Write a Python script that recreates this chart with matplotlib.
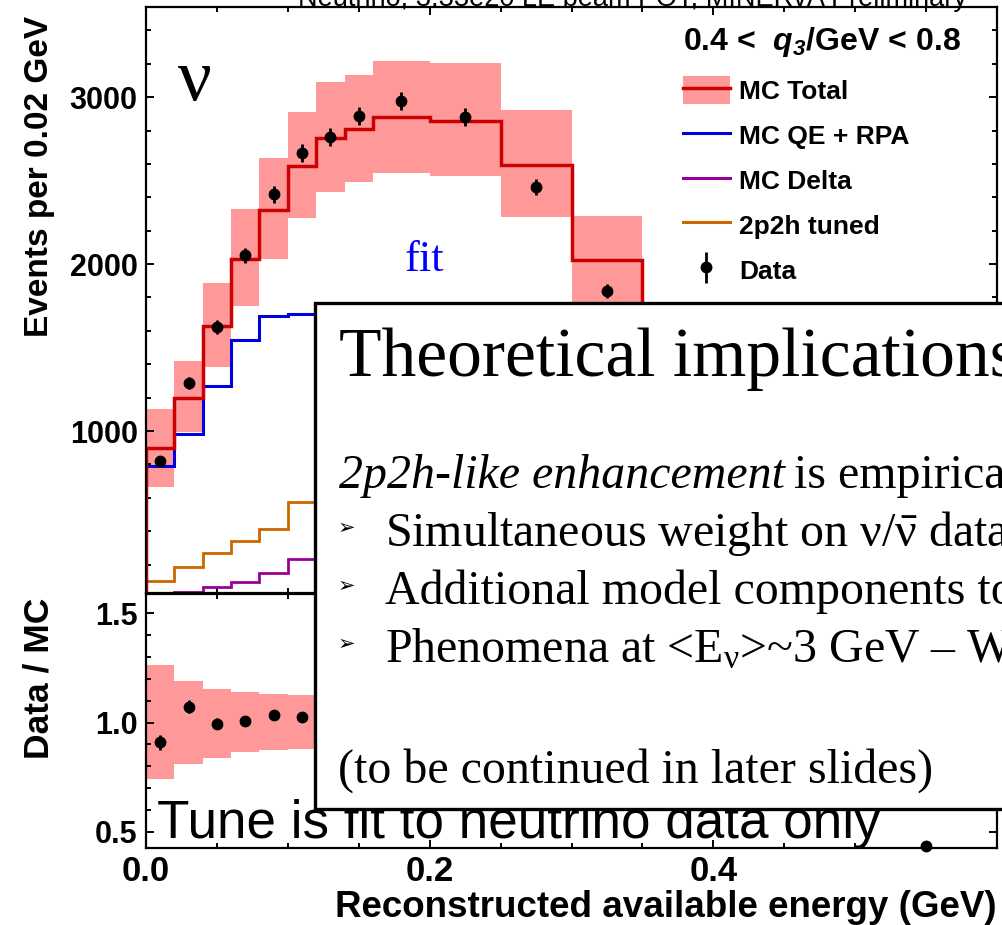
import matplotlib
matplotlib.use("Agg")
import matplotlib.pyplot as plt
from matplotlib import ticker as mticker
from matplotlib.patches import Patch, Rectangle
from matplotlib.lines import Line2D
from matplotlib.container import ErrorbarContainer
from matplotlib.legend_handler import HandlerErrorbar

W, H = 1002, 925

# histogram binning (GeV) for the visible part of the spectrum
edges = [0.0, 0.02, 0.04, 0.06, 0.08, 0.10, 0.12, 0.14, 0.16, 0.20, 0.25, 0.30, 0.35]
mc_total = [898, 1198, 1629, 2030, 2323, 2587, 2754, 2808, 2880, 2856, 2593, 2024]
mc_band_hi = [1132, 1419, 1886, 2329, 2635, 2910, 3090, 3132, 3216, 3204, 2922, 2287]
mc_band_lo = [665, 994, 1383, 1749, 2030, 2275, 2431, 2491, 2545, 2527, 2281, 1740]

# model components, first bins only
comp_edges = [0.0, 0.02, 0.04, 0.06, 0.08, 0.10, 0.12]
mc_qe_rpa = [790, 982, 1269, 1545, 1689, 1700]
mc_delta = [0, 35, 66, 96, 150, 234]
mc_2p2h = [102, 186, 269, 341, 413, 575]

data_x = [0.01, 0.03, 0.05, 0.07, 0.09, 0.11, 0.13, 0.15, 0.18, 0.225, 0.275, 0.325]
data_y = [820, 1287, 1623, 2054, 2419, 2665, 2760, 2886, 2976, 2880, 2461, 1838]
data_err = [28, 35, 40, 45, 50, 52, 53, 55, 55, 54, 50, 43]

ratio_band_hi = [1.264, 1.19, 1.155, 1.14, 1.13, 1.127]
ratio_band_lo = [0.74, 0.81, 0.84, 0.864, 0.873, 0.88]
ratio_x = [0.01, 0.03, 0.05, 0.07, 0.09, 0.11, 0.55]
ratio_y = [0.91, 1.073, 0.995, 1.005, 1.036, 1.027, 0.435]
ratio_err = [0.035, 0.03, 0.025, 0.022, 0.022, 0.02, 0.0]

RED = "#cc0000"
BAND = "#ff9999"
BLUE = "#0000dd"
PURPLE = "#990099"
ORANGE = "#cc6600"

plt.rcParams.update({
    "font.family": ["Liberation Sans", "DejaVu Sans"],
    "font.weight": "bold",
    "mathtext.fontset": "custom",
    "mathtext.rm": "Liberation Serif:weight=normal",
    "mathtext.it": "Liberation Serif:style=italic:weight=normal",
    "mathtext.sf": "Liberation Sans:style=italic:weight=bold",
    "mathtext.bf": "Liberation Sans:weight=bold",
})

SERIF = dict(family=["Liberation Serif", "DejaVu Serif"], fontweight="normal")
BODY = 34.5


def fxy(x, y):
    return x / W, 1 - y / H


def style_axes(a):
    a.tick_params(which="both", direction="in", top=True, right=True,
                  width=1.4, colors="black")
    a.tick_params(which="major", length=6)
    a.tick_params(which="minor", length=3.6)
    for spine in a.spines.values():
        spine.set_linewidth(1.6)


fig = plt.figure(figsize=(W / 100, H / 100), dpi=100)
ax = fig.add_axes([146 / W, 1 - 593 / H, 851 / W, 586 / H])
rax = fig.add_axes([146 / W, 1 - 848 / H, 851 / W, 254 / H])

# main panel
ax.stairs(mc_band_hi, edges, baseline=mc_band_lo, fill=True, color=BAND, lw=0, zorder=1)
ax.stairs(mc_2p2h, comp_edges, baseline=None, color=ORANGE, lw=2.0, zorder=2)
ax.stairs(mc_delta, comp_edges, baseline=None, color=PURPLE, lw=2.0, zorder=2)
ax.stairs(mc_qe_rpa, comp_edges, baseline=None, color=BLUE, lw=2.2, zorder=2)
# total sits just under the spines so its outer edge stays hidden at x=0
ax.stairs(mc_total, edges, baseline=0, color=RED, lw=2.5, zorder=2.4)
data_handle = ax.errorbar(data_x, data_y, yerr=data_err, fmt="o", color="black",
                          ms=7.5, elinewidth=2.0, capsize=0, zorder=4)

ax.set_xlim(0, 0.6)
ax.set_ylim(30, 3540)
style_axes(ax)
ax.xaxis.set_major_locator(mticker.MultipleLocator(0.2))
ax.xaxis.set_minor_locator(mticker.MultipleLocator(0.05))
ax.yaxis.set_major_locator(mticker.MultipleLocator(1000))
ax.yaxis.set_minor_locator(mticker.MultipleLocator(200))
ax.tick_params(labelbottom=False, labelsize=22, pad=6)

legend_handles = [
    (Patch(facecolor=BAND, edgecolor="none"), Line2D([], [], color=RED, lw=2.5)),
    Line2D([], [], color=BLUE, lw=2.2),
    Line2D([], [], color=PURPLE, lw=2.2),
    Line2D([], [], color=ORANGE, lw=2.2),
    data_handle,
]
legend_labels = ["MC Total", "MC QE + RPA", "MC Delta", "2p2h tuned", "Data"]
leg = ax.legend(legend_handles, legend_labels,
                title=r"0.4 <  $\mathsf{q_{3}}$/GeV < 0.8",
                title_fontproperties={"size": 23, "weight": "bold"},
                prop={"size": 19, "weight": "bold"},
                loc="upper left", bbox_to_anchor=((683 - 146) / 851, (593 - 25) / 586),
                frameon=False, borderpad=0, borderaxespad=0,
                handlelength=1.78, handleheight=1.21, handletextpad=0.34,
                labelspacing=0.66, alignment="left", numpoints=1,
                handler_map={ErrorbarContainer: HandlerErrorbar(yerr_size=0.6)})

# ratio panel
rax.stairs(ratio_band_hi, comp_edges, baseline=ratio_band_lo, fill=True, color=BAND, lw=0, zorder=1)
rax.errorbar(ratio_x, ratio_y, yerr=ratio_err, fmt="o", color="black",
             ms=7.5, elinewidth=2.0, capsize=0, zorder=4, clip_on=False)
rax.set_xlim(0, 0.6)
rax.set_ylim(0.426, 1.588)
style_axes(rax)
rax.xaxis.set_major_locator(mticker.MultipleLocator(0.2))
rax.xaxis.set_minor_locator(mticker.MultipleLocator(0.05))
rax.xaxis.set_major_formatter(mticker.FuncFormatter(lambda v, p: "" if v > 0.55 else f"{v:.1f}"))
rax.yaxis.set_major_locator(mticker.MultipleLocator(0.5))
rax.yaxis.set_minor_locator(mticker.MultipleLocator(0.1))
rax.yaxis.set_major_formatter(mticker.FormatStrFormatter("%.1f"))
rax.tick_params(axis="y", labelsize=22, pad=6)
rax.tick_params(axis="x", labelsize=25, pad=5)

# axis titles
fig.text(*fxy(40, 176), "Events per 0.02 GeV", rotation=90, ha="center", va="center", fontsize=24)
fig.text(*fxy(39, 678), "Data / MC", rotation=90, ha="center", va="center", fontsize=25.5)
fig.text(*fxy(997, 917), "Reconstructed available energy (GeV)", ha="right", va="baseline", fontsize=26.5)
fig.text(*fxy(632, 6), "Neutrino, 3.33e20 LE beam POT, MINERvA Preliminary",
         ha="center", va="baseline", fontsize=19.5, fontweight="normal")

# annotations on the plot
fig.text(*fxy(178, 100), "ν", fontsize=54, va="baseline", zorder=3, **SERIF)
fig.text(*fxy(405, 271), "fit", fontsize=32, color="#0000ff", va="baseline", zorder=3, **SERIF)
fig.text(*fxy(157, 838), "Tune is fit to neutrino data only", fontsize=38.2,
         fontweight="normal", va="baseline", zorder=4)

# slide text box on top
fig.add_artist(Rectangle(fxy(315, 809), (1015 - 315) / W, (809 - 303) / H,
                         transform=fig.transFigure, facecolor="white",
                         edgecolor="black", lw=2.4, zorder=5))
fig.text(*fxy(339, 376), "Theoretical implications", fontsize=50, va="baseline", zorder=6, **SERIF)
lead = fig.text(*fxy(339, 488), "2p2h-like enhancement", fontsize=BODY, style="italic",
                va="baseline", zorder=6, **SERIF)
renderer = fig.canvas.get_renderer()
lead_end = lead.get_window_extent(renderer).x1
fig.text(*fxy(lead_end + 9, 488), "is empirical", fontsize=BODY, va="baseline", zorder=6, **SERIF)

bullet_lines = [
    r"Simultaneous weight on $\mathrm{\nu}/\bar{\mathrm{\nu}}$ data",
    "Additional model components to",
    r"Phenomena at <E$_{\mathrm{\nu}}$>~3 GeV – W",
]
bullet_baselines = [546, 604, 662]
for text, base in zip(bullet_lines, bullet_baselines):
    fig.text(*fxy(338, base - 12), "➢", fontsize=15, va="baseline", zorder=6,
             family=["DejaVu Sans"], fontweight="normal")
    fig.text(*fxy(385, base), text, fontsize=BODY, va="baseline", zorder=6, **SERIF)
fig.text(*fxy(338, 783), "(to be continued in later slides)", fontsize=BODY,
         va="baseline", zorder=6, **SERIF)

fig.savefig("out.png", dpi=100, facecolor="white")
plt.close(fig)
